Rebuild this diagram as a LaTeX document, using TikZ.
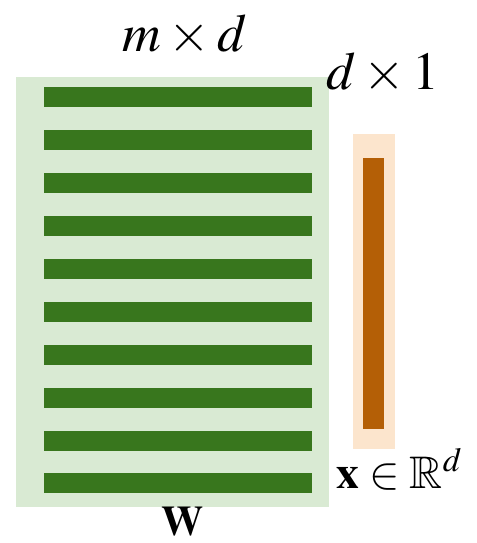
\documentclass[tikz,border=0pt]{standalone}
\usepackage{mathptmx}
\usepackage{amssymb}
\definecolor{wbg}{HTML}{D9EAD3}
\definecolor{wrow}{HTML}{38761D}
\definecolor{xbg}{HTML}{FCE5CD}
\definecolor{xcol}{HTML}{B45F06}
\begin{document}
\begin{tikzpicture}[x=0.02cm, y=-0.02cm,
    block/.style={draw=none, rectangle, inner sep=0pt, anchor=north west},
    lbl/.style={inner sep=0pt, anchor=base, font=\fontsize{30.5}{34}\selectfont}]
    \useasboundingbox (0,0) rectangle (476,543);
    % matrix W and its rows
    \node[block, fill=wbg, minimum width=313*0.02cm, minimum height=430*0.02cm] (wmat) at (16,77) {};
    \foreach \i in {0,...,9}
        \node[block, fill=wrow, minimum width=268*0.02cm, minimum height=20*0.02cm] (row\i) at (44,87+42.9*\i) {};
    % vector x
    \node[block, fill=xbg, minimum width=42*0.02cm, minimum height=315*0.02cm] (xvec) at (353,134) {};
    \node[block, fill=xcol, minimum width=21*0.02cm, minimum height=271*0.02cm] (xcolbar) at (363,158) {};
    % labels
    \node[lbl] (wdim) at (185,52) {$m \times d$};
    \node[lbl] (xdim) at (383,90) {$d \times 1$};
    \node[lbl, anchor=base west, font=\fontsize{26}{30}\selectfont] (xname) at (336,488) {$\mathbf{x} \in \mathbb{R}^d$};
    \node[lbl, font=\fontsize{24}{28}\selectfont] (wname) at (183,535) {$\mathbf{W}$};
\end{tikzpicture}
\end{document}
